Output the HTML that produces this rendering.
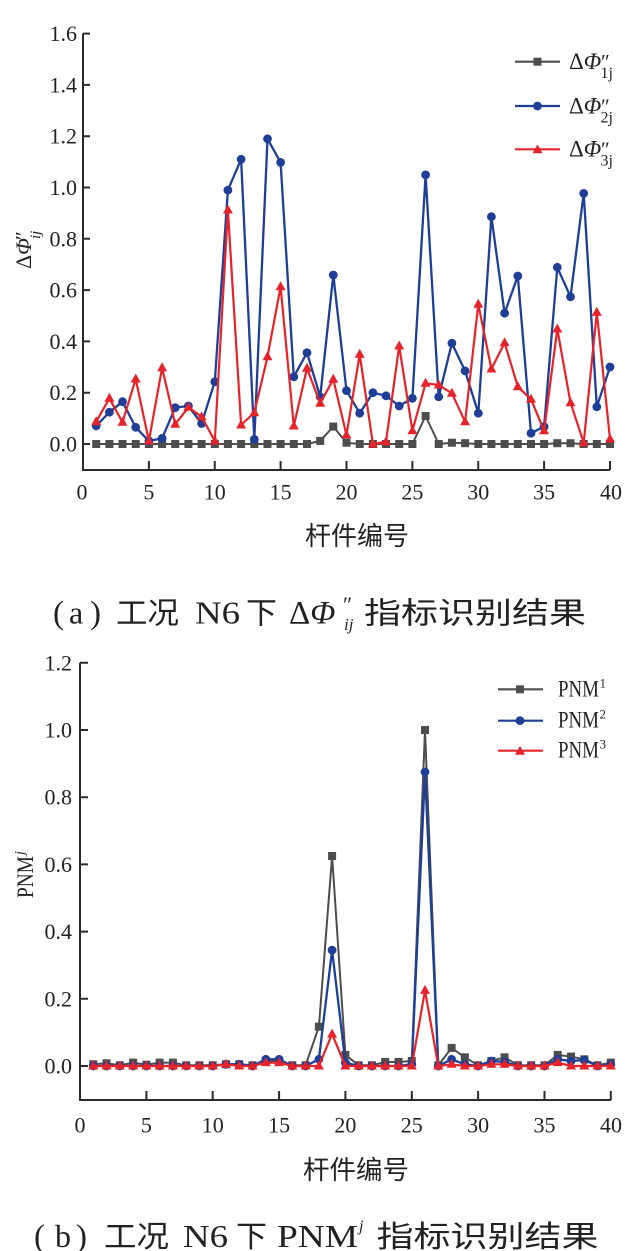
<!DOCTYPE html>
<html><head><meta charset="utf-8"><style>
html,body{margin:0;padding:0;background:#fff;}
svg{display:block;}
.t{font-family:"Liberation Serif",serif;fill:#222;}
.c{font-family:"Liberation Serif","Noto Sans CJK SC",sans-serif;fill:#222;}
</style></head><body>
<svg width="635" height="1251" viewBox="0 0 635 1251" xmlns="http://www.w3.org/2000/svg">
<defs>
<marker id="sq" markerUnits="userSpaceOnUse" markerWidth="8" markerHeight="8" refX="4" refY="4" overflow="visible"><rect x="0" y="0" width="8" height="8" fill="#4d4d4d"/></marker>
<marker id="ci" markerUnits="userSpaceOnUse" markerWidth="9" markerHeight="9" refX="4.5" refY="4.5" overflow="visible"><circle cx="4.5" cy="4.5" r="4.4" fill="#1f3f97"/></marker>
<marker id="tr" markerUnits="userSpaceOnUse" markerWidth="10" markerHeight="9" refX="5" refY="5.5" overflow="visible"><path d="M5,0 L10,9 L0,9 Z" fill="#e5232a"/></marker>
</defs>
<rect width="635" height="1251" fill="#fff"/>

<!-- ============ TOP CHART ============ -->
<g stroke="#2b2b2b" stroke-width="2" fill="none">
<path d="M83,33.6 V470 H610"/>
<path d="M83,444 h7 M83,392.7 h7 M83,341.4 h7 M83,290.1 h7 M83,238.8 h7 M83,187.5 h7 M83,136.2 h7 M83,84.9 h7 M83,33.6 h7"/>
<path d="M148.9,470 v-9 M214.75,470 v-9 M280.6,470 v-9 M346.5,470 v-9 M412.4,470 v-9 M478.25,470 v-9 M544.1,470 v-9 M610,470 v-9"/>
</g>
<g class="t" font-size="22" text-anchor="end">
<text x="77" y="451.5">0.0</text>
<text x="77" y="400.2">0.2</text>
<text x="77" y="348.9">0.4</text>
<text x="77" y="297.6">0.6</text>
<text x="77" y="246.3">0.8</text>
<text x="77" y="195">1.0</text>
<text x="77" y="143.7">1.2</text>
<text x="77" y="92.4">1.4</text>
<text x="77" y="41.1">1.6</text>
</g>
<g class="t" font-size="22" text-anchor="middle">
<text x="82" y="499.5">0</text>
<text x="148.9" y="499.5">5</text>
<text x="214.75" y="499.5">10</text>
<text x="280.6" y="499.5">15</text>
<text x="346.5" y="499.5">20</text>
<text x="412.4" y="499.5">25</text>
<text x="478.25" y="499.5">30</text>
<text x="544.1" y="499.5">35</text>
<text x="611" y="499.5">40</text>
</g>
<!-- y label -->
<g transform="translate(31,269) rotate(-90)" class="t">
<text x="0" y="0" font-size="22">Δ<tspan font-style="italic">Φ</tspan></text>
<text x="29" y="-1" font-size="21">″</text>
<text x="30" y="9" font-size="15" font-style="italic">ij</text>
</g>
<text class="c" x="305" y="545" font-size="26" textLength="104" lengthAdjust="spacingAndGlyphs">杆件编号</text>

<!-- series top -->
<polyline fill="none" stroke="#4d4d4d" stroke-width="2" stroke-linejoin="round" marker-start="url(#sq)" marker-mid="url(#sq)" marker-end="url(#sq)" points="96.2,444 109.4,444 122.5,444 135.7,444 148.9,444 162.1,444 175.2,444 188.4,444 201.6,444 214.8,444 227.9,444 241.1,444 254.3,444 267.5,444 280.6,444 293.8,444 307,444 320.2,440.9 333.3,426.6 346.5,442.7 359.7,444 372.9,444 386,444 399.2,444 412.4,444 425.6,416 438.7,444 451.9,442.7 465.1,443.2 478.3,444 491.4,444 504.6,444 517.8,444 531,444 544.1,444 557.3,443.2 570.5,443.2 583.7,444 596.8,444 610,444"/>
<polyline fill="none" stroke="#1f3f97" stroke-width="2.3" stroke-linejoin="round" marker-start="url(#ci)" marker-mid="url(#ci)" marker-end="url(#ci)" points="96.2,425.8 109.4,412.2 122.5,401.7 135.7,427.3 148.9,440.9 162.1,438.4 175.2,407.6 188.4,406 201.6,423.5 214.8,381.7 227.9,190.1 241.1,159.3 254.3,439.4 267.5,138.8 280.6,162.4 293.8,376.8 307,352.7 320.2,396.8 333.3,275 346.5,390.6 359.7,413.2 372.9,392.7 386,395.8 399.2,406 412.4,398.3 425.6,174.9 438.7,396.8 451.9,343.2 465.1,370.9 478.3,413.2 491.4,216.7 504.6,313.2 517.8,276 531,433.2 544.1,426.6 557.3,267.3 570.5,296.8 583.7,193.4 596.8,406.8 610,367"/>
<polyline fill="none" stroke="#e5232a" stroke-width="2.2" stroke-linejoin="round" marker-start="url(#tr)" marker-mid="url(#tr)" marker-end="url(#tr)" points="96.2,421.7 109.4,398.3 122.5,422.3 135.7,379 148.9,441 162.1,367.7 175.2,424.3 188.4,407.3 201.6,416.7 214.8,441 227.9,210 241.1,425 254.3,412.7 267.5,356.7 280.6,286.7 293.8,426 307,368.3 320.2,403.3 333.3,379.3 346.5,435 359.7,354.3 372.9,444 386,441.7 399.2,346 412.4,430.7 425.6,383.3 438.7,385 451.9,393.3 465.1,421.7 478.3,304.3 491.4,369 504.6,342.7 517.8,386.7 531,399.3 544.1,430.7 557.3,329 570.5,402.7 583.7,442.7 596.8,312.3 610,439"/>

<!-- legend top -->
<line x1="515" y1="61.7" x2="560" y2="61.7" stroke="#4d4d4d" stroke-width="2.2"/>
<rect x="533.5" y="57.7" width="8" height="8" fill="#4d4d4d"/>
<line x1="515" y1="106" x2="560" y2="106" stroke="#1f3f97" stroke-width="2.2"/>
<circle cx="537.5" cy="106" r="4.4" fill="#1f3f97"/>
<line x1="515" y1="149.3" x2="560" y2="149.3" stroke="#e5232a" stroke-width="2.2"/>
<path d="M537.5,144.5 L542.5,153.3 L532.5,153.3 Z" fill="#e5232a"/>
<g class="t">
<text x="569" y="69" font-size="23">Δ<tspan font-style="italic">Φ</tspan></text>
<text x="601" y="69" font-size="21">″</text>
<text x="600.5" y="78" font-size="16">1j</text>
<text x="569" y="113.3" font-size="23">Δ<tspan font-style="italic">Φ</tspan></text>
<text x="601" y="113.3" font-size="21">″</text>
<text x="600.5" y="122.3" font-size="16">2j</text>
<text x="569" y="156.5" font-size="23">Δ<tspan font-style="italic">Φ</tspan></text>
<text x="601" y="156.5" font-size="21">″</text>
<text x="600.5" y="165.5" font-size="16">3j</text>
</g>

<!-- caption a -->
<g class="c">
<text x="53" y="623.5" font-size="33">(</text>
<text x="69" y="623.5" font-size="32">a</text>
<text x="90" y="623.5" font-size="33">)</text>
<text x="116" y="623.5" font-size="30" textLength="63" lengthAdjust="spacingAndGlyphs">工况</text>
<text x="195" y="623.5" font-size="32" textLength="45" lengthAdjust="spacingAndGlyphs">N6</text>
<text x="246" y="623.5" font-size="30" textLength="31" lengthAdjust="spacingAndGlyphs">下</text>
<text x="289" y="623.5" font-size="33">Δ<tspan font-style="italic">Φ</tspan></text>
<text x="343" y="612" font-size="22">″</text>
<text x="344" y="630" font-size="17" font-style="italic">ij</text>
<text x="364" y="623.5" font-size="30" textLength="222" lengthAdjust="spacingAndGlyphs">指标识别结果</text>
</g>

<!-- ============ BOTTOM CHART ============ -->
<g stroke="#2b2b2b" stroke-width="2" fill="none">
<path d="M80,662.8 V1100 H610.8"/>
<path d="M80,1066 h8 M80,998.8 h8 M80,931.6 h8 M80,864.4 h8 M80,797.2 h8 M80,730 h8 M80,662.8 h8"/>
<path d="M146.4,1100 v-9 M212.7,1100 v-9 M279.1,1100 v-9 M345.4,1100 v-9 M411.8,1100 v-9 M478.1,1100 v-9 M544.5,1100 v-9 M610.8,1100 v-9"/>
</g>
<g class="t" font-size="22" text-anchor="end">
<text x="72" y="1073.5">0.0</text>
<text x="72" y="1006.3">0.2</text>
<text x="72" y="939.1">0.4</text>
<text x="72" y="871.9">0.6</text>
<text x="72" y="804.7">0.8</text>
<text x="72" y="737.5">1.0</text>
<text x="72" y="670.3">1.2</text>
</g>
<g class="t" font-size="22" text-anchor="middle">
<text x="80" y="1132.5">0</text>
<text x="146.4" y="1132.5">5</text>
<text x="212.7" y="1132.5">10</text>
<text x="279.1" y="1132.5">15</text>
<text x="345.4" y="1132.5">20</text>
<text x="411.8" y="1132.5">25</text>
<text x="478.1" y="1132.5">30</text>
<text x="544.5" y="1132.5">35</text>
<text x="611" y="1132.5">40</text>
</g>
<g transform="translate(33,898) rotate(-90)" class="t">
<text x="0" y="0" font-size="23" textLength="42" lengthAdjust="spacingAndGlyphs">PNM</text>
<text x="43" y="-9" font-size="14" font-style="italic">j</text>
</g>
<text class="c" x="303" y="1179" font-size="26" textLength="106" lengthAdjust="spacingAndGlyphs">杆件编号</text>

<!-- series bottom -->
<polyline fill="none" stroke="#4d4d4d" stroke-width="2" stroke-linejoin="round" marker-start="url(#sq)" marker-mid="url(#sq)" marker-end="url(#sq)" points="93.3,1064.3 106.5,1063.3 119.8,1065.3 133.1,1062.6 146.4,1064.7 159.6,1062.6 172.9,1062.6 186.2,1065.3 199.4,1065.3 212.7,1065.3 226,1064.3 239.2,1064.3 252.5,1065.3 265.8,1061 279.1,1061 292.3,1065.3 305.6,1065.3 318.9,1026.7 332.1,856 345.4,1054.9 358.7,1065.3 371.9,1065.3 385.2,1062 398.5,1062 411.8,1061 425,730 438.3,1065.3 451.6,1047.9 464.8,1057.3 478.1,1065.3 491.4,1061 504.6,1057.3 517.9,1065.3 531.2,1065.3 544.5,1065.3 557.7,1054.9 571,1056.6 584.3,1059.3 597.5,1065.3 610.8,1062.6"/>
<polyline fill="none" stroke="#1f3f97" stroke-width="2.3" stroke-linejoin="round" marker-start="url(#ci)" marker-mid="url(#ci)" marker-end="url(#ci)" points="93.3,1066 106.5,1066 119.8,1066 133.1,1066 146.4,1066 159.6,1066 172.9,1066 186.2,1066 199.4,1066 212.7,1066 226,1064.3 239.2,1064.3 252.5,1066 265.8,1059.3 279.1,1059.3 292.3,1066 305.6,1066 318.9,1059.3 332.1,950.1 345.4,1062.6 358.7,1066 371.9,1066 385.2,1066 398.5,1066 411.8,1064.3 425,772 438.3,1066 451.6,1059.3 464.8,1064.3 478.1,1066 491.4,1061 504.6,1062 517.9,1066 531.2,1066 544.5,1066 557.7,1059.3 571,1061 584.3,1060 597.5,1066 610.8,1064.3"/>
<polyline fill="none" stroke="#e5232a" stroke-width="2.2" stroke-linejoin="round" marker-start="url(#tr)" marker-mid="url(#tr)" marker-end="url(#tr)" points="93.3,1066 106.5,1066 119.8,1066 133.1,1066 146.4,1066 159.6,1066 172.9,1066 186.2,1066 199.4,1066 212.7,1066 226,1064.3 239.2,1066 252.5,1066 265.8,1062.6 279.1,1062.6 292.3,1066 305.6,1066 318.9,1066 332.1,1034.1 345.4,1066 358.7,1066 371.9,1066 385.2,1066 398.5,1066 411.8,1066 425,990.4 438.3,1066 451.6,1064.3 464.8,1066 478.1,1066 491.4,1064.3 504.6,1064.3 517.9,1066 531.2,1066 544.5,1066 557.7,1062.6 571,1066 584.3,1066 597.5,1066 610.8,1066"/>

<!-- legend bottom -->
<line x1="498" y1="689.3" x2="543" y2="689.3" stroke="#4d4d4d" stroke-width="2.2"/>
<rect x="516" y="685.3" width="8" height="8" fill="#4d4d4d"/>
<line x1="498" y1="720.7" x2="543" y2="720.7" stroke="#1f3f97" stroke-width="2.2"/>
<circle cx="520" cy="720.7" r="4.4" fill="#1f3f97"/>
<line x1="498" y1="750.7" x2="543" y2="750.7" stroke="#e5232a" stroke-width="2.2"/>
<path d="M520,745.9 L525,754.7 L515,754.7 Z" fill="#e5232a"/>
<g class="t">
<text x="558" y="696.5" font-size="23" textLength="41" lengthAdjust="spacingAndGlyphs">PNM</text>
<text x="599.5" y="687.5" font-size="13">1</text>
<text x="558" y="727.5" font-size="23" textLength="41" lengthAdjust="spacingAndGlyphs">PNM</text>
<text x="599.5" y="718.5" font-size="13">2</text>
<text x="558" y="757.5" font-size="23" textLength="41" lengthAdjust="spacingAndGlyphs">PNM</text>
<text x="599.5" y="748.5" font-size="13">3</text>
</g>

<!-- caption b -->
<g class="c">
<text x="34" y="1247" font-size="33">(</text>
<text x="55" y="1247" font-size="32">b</text>
<text x="76" y="1247" font-size="33">)</text>
<text x="104" y="1247" font-size="30" textLength="65" lengthAdjust="spacingAndGlyphs">工况</text>
<text x="183" y="1247" font-size="32" textLength="45" lengthAdjust="spacingAndGlyphs">N6</text>
<text x="236" y="1247" font-size="30" textLength="31" lengthAdjust="spacingAndGlyphs">下</text>
<text x="277" y="1247" font-size="32" textLength="81" lengthAdjust="spacingAndGlyphs">PNM</text>
<text x="359" y="1231" font-size="16" font-style="italic">j</text>
<text x="376.5" y="1247" font-size="30" textLength="222" lengthAdjust="spacingAndGlyphs">指标识别结果</text>
</g>
</svg>
</body></html>
